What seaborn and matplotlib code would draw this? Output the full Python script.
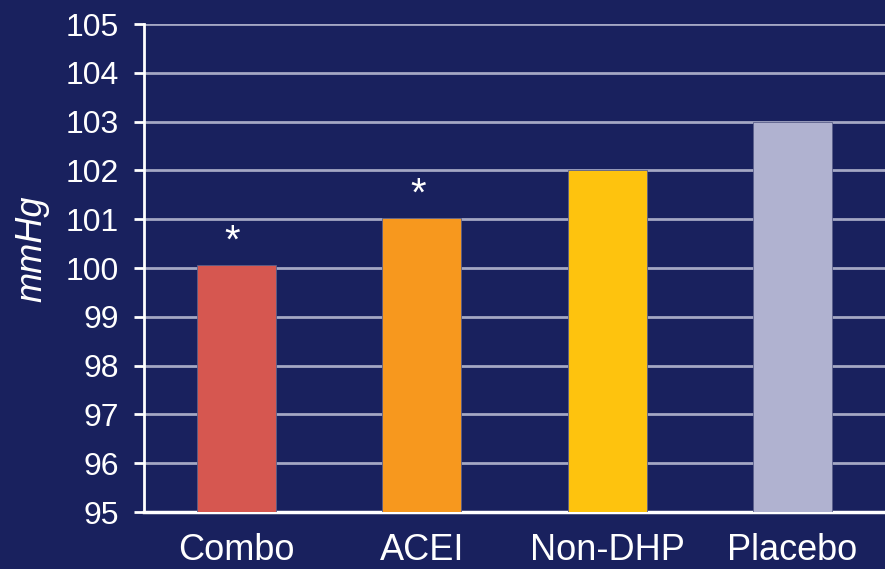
import matplotlib
matplotlib.use("Agg")
import matplotlib.pyplot as plt
import seaborn as sns
import pandas as pd

categories = ["Combo", "ACEI", "Non-DHP", "Placebo"]
values = [100.06, 101.02, 102.0, 103.0]
significant = [True, True, False, False]
bar_colors = ["#d65750", "#f7981e", "#fec30e", "#b0b2d0"]
y_ticks = list(range(95, 106))

BG = "#19215e"

sns.set_theme(style="white")
plt.rcParams["font.family"] = ["Liberation Sans", "DejaVu Sans"]

df = pd.DataFrame({"group": categories, "mmHg": values})

fig = plt.figure(figsize=(8.85, 5.69), dpi=100, facecolor=BG)
ax = fig.add_axes([144 / 885, 1 - 512 / 569, 741 / 885, 488 / 569])
ax.set_facecolor(BG)

sns.barplot(data=df, x="group", y="mmHg", hue="group", palette=bar_colors,
            order=categories, hue_order=categories, width=0.427,
            saturation=1, legend=False, ax=ax, zorder=3, linewidth=0.6,
            edgecolor="#5a5f8a")

ax.set_xlim(-0.5, 3.5)
ax.set_ylim(95, 105)
ax.set_yticks(y_ticks)
ax.yaxis.grid(True, color="#a4a7c4", linewidth=2, zorder=0)
ax.set_axisbelow(True)

# significance markers
for i, (v, s) in enumerate(zip(values, significant)):
    if s:
        ax.text(i - 0.022, v + 0.26, "*", color="white", fontsize=29,
                ha="center", va="baseline", zorder=4)

for side in ["top", "right"]:
    ax.spines[side].set_visible(False)
ax.spines["left"].set_color("white")
ax.spines["left"].set_linewidth(2)
ax.spines["bottom"].set_color("white")
ax.spines["bottom"].set_linewidth(2.5)

ax.tick_params(axis="y", colors="white", labelsize=23, length=7,
               width=2, pad=11, direction="out", left=True)
ax.tick_params(axis="x", colors="white", labelsize=26, length=0, pad=15)

ax.set_xlabel("")
ax.set_ylabel("mmHg", color="white", fontsize=26, style="italic")
ax.yaxis.set_label_coords(-0.128, 0.539)

fig.savefig("out.png", dpi=100, facecolor=BG)
